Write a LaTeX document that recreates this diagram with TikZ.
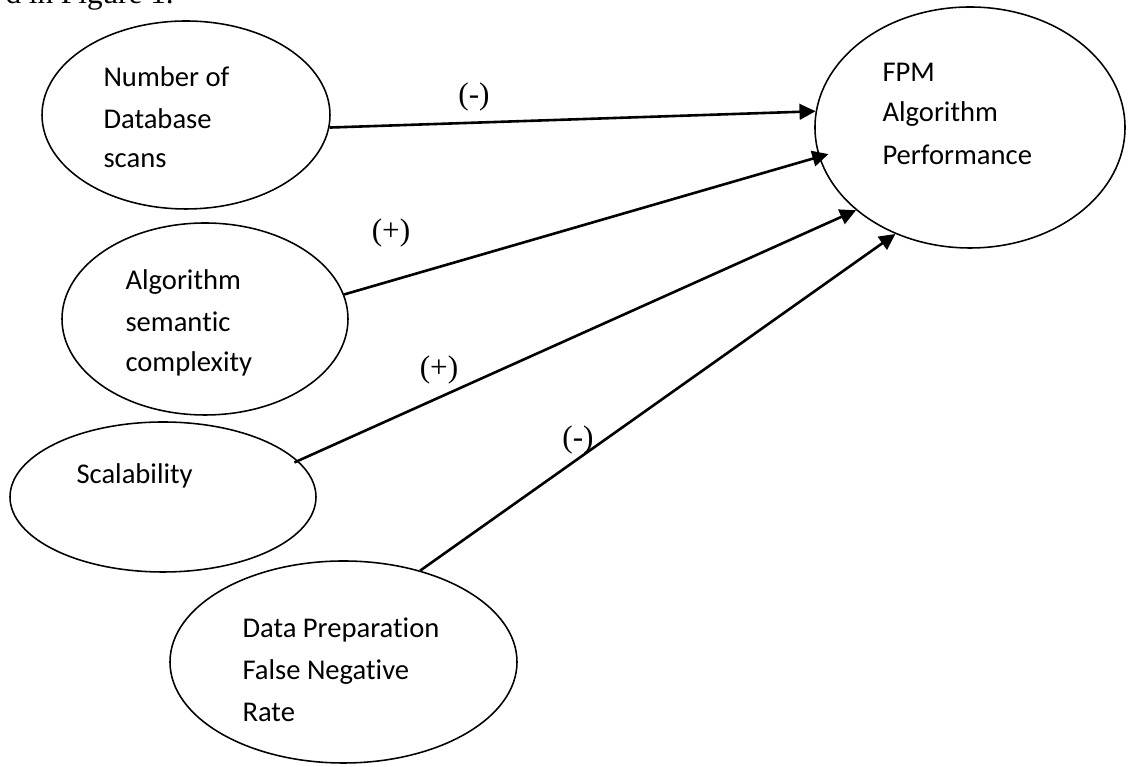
\documentclass[tikz,border=0pt]{standalone}
\usepackage{fontspec}
\setmainfont{Liberation Serif}
\newfontfamily\calfont[Ligatures=NoCommon]{Carlito}
\usetikzlibrary{shapes.geometric,arrows.meta}
\begin{document}
\begin{tikzpicture}[x=0.3846pt,y=-0.3846pt,
  bubble/.style={ellipse, draw, line width=0.6pt, inner sep=0pt},
  txt/.style={anchor=base west, inner sep=0pt, font=\calfont\fontsize{11}{13}\selectfont},
  sign/.style={inner sep=0pt, font=\fontsize{12}{14}\selectfont},
  link/.style={-{Triangle[length=6.2pt,width=6pt]}, line width=1pt}]
\useasboundingbox (0,0) rectangle (1128,767);
\clip (0,0) rectangle (1128,767);

% running text above the figure
\node[anchor=base west, inner sep=0pt, font=\fontsize{12}{14}\selectfont] (cap) at (5,4) {d in Figure 1.};

% factors and outcome
\node[bubble, minimum width=110.76pt, minimum height=72.30pt] (scans) at (186,115) {};
\node[bubble, minimum width=119.23pt, minimum height=92.69pt] (fpm) at (970,127.5) {};
\node[bubble, minimum width=110.00pt, minimum height=73.84pt] (sem) at (205,319) {};
\node[bubble, minimum width=117.69pt, minimum height=57.69pt] (scal) at (163,497) {};
\node[bubble, minimum width=133.46pt, minimum height=77.69pt] (prep) at (343.5,662) {};

% labels inside the ellipses
\node[txt] (scans1) at (103,87) {Number of};
\node[txt] (scans2) at (103,129) {Database};
\node[txt] (scans3) at (103,168) {scans};

\node[txt] (fpm1) at (882,82) {FPM};
\node[txt] (fpm2) at (882,122) {Algorithm};
\node[txt] (fpm3) at (882,165) {Performance};

\node[txt] (sem1) at (125,290) {Algorithm};
\node[txt] (sem2) at (125,332) {semantic};
\node[txt] (sem3) at (125,372) {complexity};

\node[txt] (scal1) at (76,484) {Scalability};

\node[txt] (prep1) at (242,638) {Data Preparation};
\node[txt] (prep2) at (242,680) {False Negative};
\node[txt] (prep3) at (242,722) {Rate};

% effects on performance
\draw[link] (scans.-5) -- (fpm.174);
\draw[link, shorten >=-3.85pt] (sem.10) -- (fpm.191);
\draw[link, shorten <=-1.54pt] (scal.15) -- (fpm.216);
\draw[link] (prep.50) -- (fpm.235);

% signs of the effects
\node[sign] (s1) at (474,97) {(-)};
\node[sign] (s2) at (391,233) {(+)};
\node[sign] (s3) at (439,370) {(+)};
\node[sign] (s4) at (578,440) {(-)};
\end{tikzpicture}
\end{document}
